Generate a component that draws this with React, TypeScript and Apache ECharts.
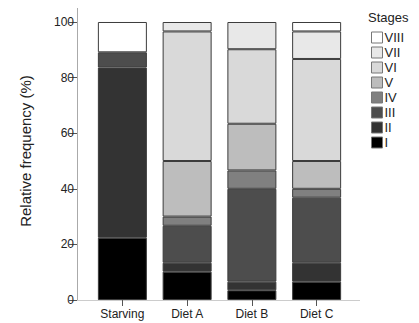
import React, { useEffect, useRef } from "react";
import * as echarts from "echarts";

const categories = ["Starving", "Diet A", "Diet B", "Diet C"];
const stages = ["I", "II", "III", "IV", "V", "VI", "VII", "VIII"];
const stageColors = ["#000000", "#333333", "#4d4d4d", "#808080", "#bdbdbd", "#d9d9d9", "#e8e8e8", "#ffffff"];
const stageI = [22.4, 10.2, 3.5, 6.6];
const stageII = [61.2, 3.2, 3.1, 6.8];
const stageIII = [5.5, 13.3, 33.4, 23.4];
const stageIV = [0, 3.3, 6.6, 3.2];
const stageV = [0, 20.0, 16.8, 10.0];
const stageVI = [0, 46.6, 26.8, 36.7];
const stageVII = [0, 3.4, 9.8, 9.9];
const stageVIII = [10.9, 0, 0, 3.4];
const stageValues = [stageI, stageII, stageIII, stageIV, stageV, stageVI, stageVII, stageVIII];
const yTicks = [0, 20, 40, 60, 80, 100];
const yAxisTitle = "Relative frequency (%)";
const legendTitle = "Stages";

export default function App() {
  const ref = useRef<HTMLDivElement>(null);
  useEffect(() => {
    if (!ref.current) return;
    const chart = echarts.init(ref.current, null, { renderer: "svg" });
    const font = "Liberation Sans, Arial, sans-serif";
    chart.setOption({
      animation: false,
      backgroundColor: "#ffffff",
      textStyle: { fontFamily: font },
      grid: { left: 90, right: 70, top: 22, bottom: 23 },
      legend: {
        orient: "vertical",
        left: 366,
        top: 26,
        itemWidth: 11,
        itemHeight: 11,
        itemGap: 2,
        padding: 5,
        data: stages.slice().reverse(),
        itemStyle: { borderColor: "#777777", borderWidth: 1 },
        textStyle: { fontSize: 13, lineHeight: 12, color: "#222", padding: [0, 0, 0, -3], fontFamily: font },
        icon: "rect",
      },
      xAxis: {
        type: "category",
        data: categories,
        axisLine: { show: false },
        axisTick: { show: true, alignWithLabel: true, length: 6, lineStyle: { color: "#555" } },
        axisLabel: { fontSize: 12, color: "#222", margin: 8, fontFamily: font },
      },
      yAxis: {
        type: "value",
        min: 0,
        max: 100,
        interval: 20,
        offset: 13,
        axisLine: { show: false },
        axisTick: { show: true, length: 8, lineStyle: { color: "#555" } },
        axisLabel: {
          fontSize: 12,
          color: "#222",
          margin: 3,
          fontFamily: font,
          formatter: (v: number) => (yTicks.includes(v) ? String(v) : ""),
        },
        splitLine: { show: false },
      },
      graphic: [
        { type: "line", shape: { x1: 77.5, y1: 8, x2: 77.5, y2: 300 }, style: { stroke: "#aaaaaa", lineWidth: 1 } },
        { type: "line", shape: { x1: 77, y1: 300.5, x2: 360, y2: 300.5 }, style: { stroke: "#cccccc", lineWidth: 1 } },
        {
          type: "text",
          x: 25,
          y: 151,
          rotation: Math.PI / 2,
          style: { text: yAxisTitle, fontSize: 15, fill: "#222", fontFamily: font, align: "center", verticalAlign: "middle" },
        },
        {
          type: "text",
          left: 368,
          top: 11,
          style: { text: legendTitle, fontSize: 13, fill: "#222", fontFamily: font },
        },
      ],
      series: stages.map((s, i) => ({
        name: s,
        type: "bar",
        stack: "total",
        barWidth: 49,
        data: stageValues[i].map((v) => (v === 0 ? "-" : v)),
        itemStyle: { color: stageColors[i], borderColor: "#3c3c3c", borderWidth: 1 },
        emphasis: { disabled: true },
      })),
    });
    return () => chart.dispose();
  }, []);
  return <div ref={ref} style={{ width: 419, height: 323, position: "absolute", left: 0, top: 0 }} />;
}
